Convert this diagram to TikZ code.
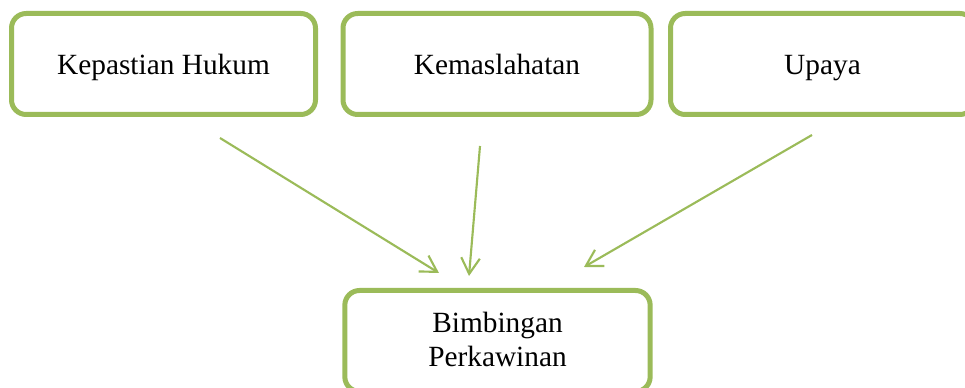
\documentclass[tikz,border=0pt]{standalone}
\usepackage{fontspec}
\setmainfont{Liberation Serif}
\usetikzlibrary{arrows.meta}
\definecolor{olivegreen}{HTML}{9BBB59}
\begin{document}
\begin{tikzpicture}[x=0.75pt,y=-0.75pt,
  greenbox/.style={draw=olivegreen,line width=3.75pt,rounded corners=11pt,
    minimum width=228pt,minimum height=75.75pt,align=center,
    font=\fontsize{22pt}{25.5pt}\selectfont,inner sep=0pt,
    text height=17pt,text depth=0.5pt},
  greenarrow/.style={draw=olivegreen,line width=1.6pt,
    -{Straight Barb[length=12pt,width=14pt,line width=1.6pt]}}]
\useasboundingbox (0,0) rectangle (965,388);
\clip (0,0) rectangle (965,388);
\node[greenbox] (kh) at (163.5,64) {Kepastian Hukum};
\node[greenbox,minimum width=231pt] (km) at (497,64) {Kemaslahatan};
\node[greenbox] (up) at (822.5,64) {Upaya};
\node[greenbox,minimum width=229pt,text height=42pt,text depth=3pt] (bp) at (497.5,341) {Bimbingan\\Perkawinan};
\coordinate (s1) at (220,138);
\coordinate (e1) at (439,273);
\coordinate (s2) at (480,146);
\coordinate (e2) at (469,276);
\coordinate (s3) at (812,135);
\coordinate (e3) at (584,267);
\draw[greenarrow] (s1) -- (e1);
\draw[greenarrow] (s2) -- (e2);
\draw[greenarrow] (s3) -- (e3);
\end{tikzpicture}
\end{document}
